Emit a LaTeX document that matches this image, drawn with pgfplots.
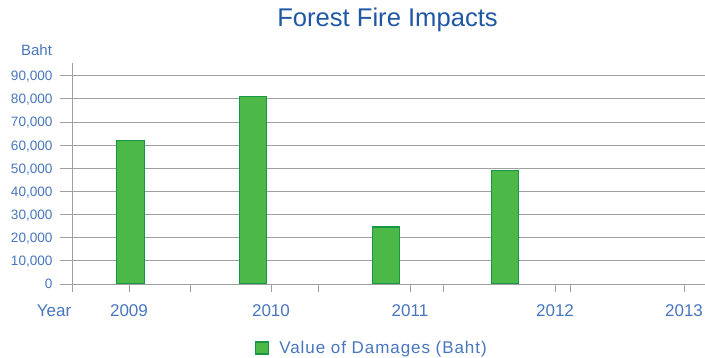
\documentclass[border=0pt]{standalone}
\usepackage{pgfplots}
\pgfplotsset{compat=1.18}
\usepackage{fontspec}
\setmainfont{Liberation Sans}
\definecolor{titleblue}{RGB}{30,88,165}
\definecolor{labelblue}{RGB}{72,118,190}
\definecolor{barfill}{RGB}{76,184,72}
\definecolor{bardraw}{RGB}{24,150,70}
\definecolor{gridgray}{RGB}{160,160,160}
\begin{document}
\begin{tikzpicture}
\begin{axis}[
  scale only axis, width=633bp, height=221bp,
  xmin=72, xmax=705, ymin=0, ymax=95500,
  axis lines*=left,
  axis line style={gridgray, line width=1bp},
  ybar, bar width=27.5,
  xtick={72,190,318,443,570},
  xticklabels={},
  tick align=outside,
  xtick style={gridgray, line width=1bp, /pgfplots/major tick length=8bp},
  ytick style={gridgray, line width=1bp, /pgfplots/major tick length=12bp},
  ytick={0,10000,...,90000},
  ymajorgrids, grid style={gridgray, line width=1bp},
  scaled y ticks=false,
  /pgf/number format/fixed, /pgf/number format/1000 sep={,}, /pgf/number format/assume math mode=true,
  yticklabel={\fontsize{13.6bp}{16bp}\selectfont\pgfmathprintnumber{\tick}},
  yticklabel style={text=labelblue, anchor=base east, yshift=-4.9bp, xshift=-15bp, inner sep=0pt},
  extra x ticks={129,271,410,555,684},
  extra x tick labels={2009,2010,2011,2012,2013},
  extra x tick style={/pgfplots/major tick length=0pt, xticklabel style={font=\fontsize{17bp}{20bp}\selectfont, text=labelblue, anchor=base, yshift=-32bp, inner sep=0pt}},
  legend style={draw=none, fill=none, at={(rel axis cs:0.289,-0.2896)}, anchor=west, inner sep=0pt,
    font=\fontsize{17bp}{20bp}\selectfont\addfontfeature{LetterSpace=5.5}, text=labelblue, legend cell align=left,
    /tikz/every odd column/.append style={column sep=8bp}},
  legend image code/.code={\draw[fill=barfill, draw=bardraw, line width=1.2bp] (0bp,-6bp) rectangle (13bp,6bp);},
]
\addplot[fill=barfill, draw=bardraw, line width=1.4bp] coordinates {(130.5,62000) (253,81000) (386,24600) (505,49100)};
\addlegendentry{Value of Damages (Baht)}
\end{axis}
\node[anchor=base, font=\fontsize{17bp}{20bp}\selectfont, text=labelblue, inner sep=0pt] at (-18bp,-32bp) {Year};
\node[anchor=base, font=\fontsize{25.6bp}{30bp}\selectfont, text=titleblue, inner sep=0pt] at (315.5bp,257.3bp) {Forest Fire Impacts};
\node[anchor=base, font=\fontsize{15bp}{18bp}\selectfont, text=labelblue, inner sep=0pt] at (-35.5bp,228.3bp) {Baht};
\pgfresetboundingbox
\useasboundingbox (-72bp,-74bp) rectangle (633bp,284bp);
\end{tikzpicture}
\end{document}
